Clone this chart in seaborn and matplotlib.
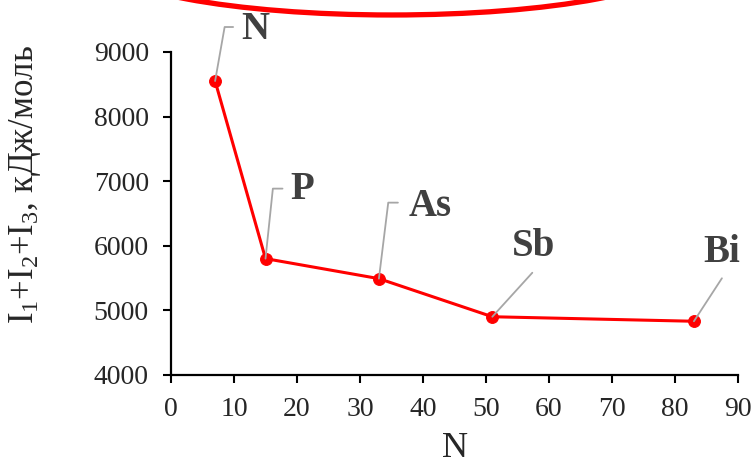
import numpy as np
import pandas as pd
import matplotlib
matplotlib.use("Agg")
from matplotlib import pyplot as plt
from matplotlib.patches import Ellipse
import seaborn as sns

# group 15 elements: atomic number vs I1+I2+I3 (kJ/mol)
elements = ['N', 'P', 'As', 'Sb', 'Bi']
atomic_number = [7, 15, 33, 51, 83]
energy_sum = [8550, 5800, 5490, 4900, 4830]

df = pd.DataFrame({'Z': atomic_number, 'E': energy_sum, 'el': elements})

sns.set_style('ticks')
plt.rcParams['font.family'] = 'serif'
plt.rcParams['font.serif'] = ['Liberation Serif', 'DejaVu Serif']
plt.rcParams['mathtext.fontset'] = 'custom'
plt.rcParams['mathtext.rm'] = 'Liberation Serif'
plt.rcParams['mathtext.it'] = 'Liberation Serif:italic'

fig = plt.figure(figsize=(7.55, 4.68), dpi=100)
ax = fig.add_axes([0.2265, 0.199, 0.751, 0.69])

sns.lineplot(data=df, x='Z', y='E', ax=ax, color='#FF0000', linewidth=2.2,
             marker='o', markersize=8.5, markeredgecolor='#FF0000', zorder=2)

ax.set_xlim(0, 90)
ax.set_ylim(4000, 9000)
ax.set_xticks(np.arange(0, 91, 10))
ax.set_yticks(np.arange(4000, 9001, 1000))
ax.tick_params(axis='both', direction='out', length=6, width=1.5,
               labelsize=20, pad=10, color='black')
for s in ['left', 'bottom']:
    ax.spines[s].set_linewidth(1.6)
    ax.spines[s].set_color('black')
sns.despine(ax=ax)

ax.set_xlabel('N', fontsize=26)
ax.xaxis.set_label_coords(0.501, -0.176)
ax.set_ylabel(r'I$_1$+I$_2$+I$_3$, кДж/моль', fontsize=25)
ax.yaxis.set_label_coords(-0.226, 0.588)

# label offsets (points) - text centre, leader end, leader angle (None = straight)
px = 0.72
text_off = [(40, 52), (37, 69), (51, 72), (41, 70), (28, 69)]
lead_end = [(18, 54), (17, 70), (19, 76), (40, 44), (28, 43)]
lead_ang = [80, 84, 83, None, None]

for i, row in df.iterrows():
    tx, ty = text_off[i]
    ex, ey = lead_end[i]
    if lead_ang[i] is None:
        cs = 'arc3,rad=0'
    else:
        cs = f'angle,angleA=0,angleB={lead_ang[i]},rad=0'
    ax.annotate('', xy=(row['Z'], row['E']), xytext=(ex * px, ey * px),
                textcoords='offset points', annotation_clip=False,
                arrowprops=dict(arrowstyle='-', color='#A6A6A6', lw=1.3,
                                shrinkA=0, shrinkB=0, connectionstyle=cs),
                zorder=4)
    ax.annotate(row['el'], xy=(row['Z'], row['E']), xytext=(tx * px, ty * px),
                textcoords='offset points', ha='center', va='center',
                fontsize=28, fontweight='bold', color='#404040',
                annotation_clip=False, zorder=5)

# red highlight ellipse cut by the top edge
fig.add_artist(Ellipse((0.519, 1.0855), 0.77, 0.235, transform=fig.transFigure,
                       fill=False, edgecolor='#FF0000', linewidth=3.8, clip_on=False))

plt.savefig('out.png', dpi=100)
